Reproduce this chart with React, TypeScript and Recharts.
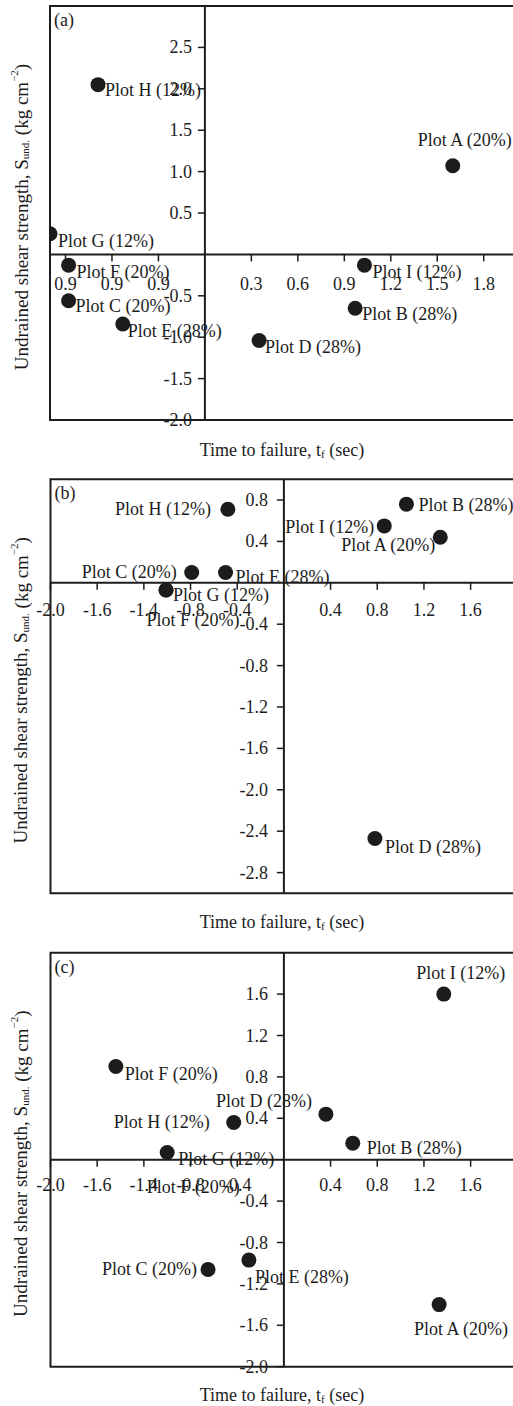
import { ScatterChart, Scatter, XAxis, YAxis, ReferenceLine, ReferenceArea } from 'recharts'

const FONT = '"Liberation Serif", "Times New Roman", serif'
const INK = '#1c1c1c'
const CHART_W = 560

// ---- panel (a) ----
const A_NAMES = ['Plot A (20%)', 'Plot B (28%)', 'Plot C (20%)', 'Plot D (28%)', 'Plot E (28%)', 'Plot F (20%)', 'Plot G (12%)', 'Plot H (12%)', 'Plot I (12%)']
const A_X = [1.6, 0.97, -0.88, 0.35, -0.53, -0.88, -1.0, -0.69, 1.03]
const A_Y = [1.07, -0.65, -0.56, -1.04, -0.84, -0.13, 0.25, 2.05, -0.13]
const A_XTICKS = [-0.9, -0.6, -0.3, 0.3, 0.6, 0.9, 1.2, 1.5, 1.8]
const A_XTICK_LABELS = ['0.9', '0.9', '0.9', '0.3', '0.6', '0.9', '1.2', '1.5', '1.8']
const A_YTICKS = [2.5, 2.0, 1.5, 1.0, 0.5, -0.5, -1.0, -1.5, -2.0]
const A_YTICK_LABELS = ['2.5', '2.0', '1.5', '1.0', '0.5', '-0.5', '-1.0', '-1.5', '-2.0']

// ---- panel (b) ----
const B_NAMES = ['Plot A (20%)', 'Plot B (28%)', 'Plot C (20%)', 'Plot D (28%)', 'Plot E (28%)', 'Plot F (20%)', 'Plot G (12%)', 'Plot H (12%)', 'Plot I (12%)']
const B_X = [1.34, 1.05, -0.79, 0.78, -0.5, -1.01, -1.01, -0.48, 0.86]
const B_Y = [0.44, 0.76, 0.1, -2.47, 0.1, -0.07, -0.07, 0.71, 0.55]
const BC_XTICKS = [-2.0, -1.6, -1.2, -0.8, -0.4, 0.4, 0.8, 1.2, 1.6]
const BC_XTICK_LABELS = ['-2.0', '-1.6', '-1.4', '-0.8', '-0.4', '0.4', '0.8', '1.2', '1.6']
const B_YTICKS = [0.8, 0.4, -0.4, -0.8, -1.2, -1.6, -2.0, -2.4, -2.8]
const B_YTICK_LABELS = ['0.8', '0.4', '-0.4', '-0.8', '-1.2', '-1.6', '-2.0', '-2.4', '-2.8']

// ---- panel (c) ----
const C_NAMES = ['Plot A (20%)', 'Plot B (28%)', 'Plot C (20%)', 'Plot D (28%)', 'Plot E (28%)', 'Plot F (20%)', 'Plot G (12%)', 'Plot H (12%)', 'Plot I (12%)']
const C_X = [1.33, 0.59, -0.65, 0.36, -0.3, -1.44, -1.0, -0.43, 1.37]
const C_Y = [-1.4, 0.16, -1.06, 0.44, -0.97, 0.9, 0.07, 0.36, 1.6]
// stray label printed under Plot G in the original figure
const C_STRAY_NAMES = ['Plot F (20%)']
const C_STRAY_X = [-1.0]
const C_STRAY_Y = [0.07]
const C_YTICKS = [1.6, 1.2, 0.8, 0.4, -0.4, -0.8, -1.2, -1.6, -2.0]
const C_YTICK_LABELS = ['1.6', '1.2', '0.8', '0.4', '-0.4', '-0.8', '-1.2', '-1.6', '-2.0']

type Anchor = 'start' | 'middle' | 'end'
type LabelPos = Record<string, [number, number, Anchor]>

// label offsets from the marker centre, keyed by plot letter
const A_LABELS: LabelPos = {
  A: [12, -26, 'middle'], B: [7, 6, 'start'], C: [7, 5, 'start'], D: [6, 6, 'start'],
  E: [5, 7, 'start'], F: [8, 7, 'start'], G: [8, 7, 'start'], H: [7, 5, 'start'], I: [8, 7, 'start'],
}
const B_LABELS: LabelPos = {
  A: [-5, 8, 'end'], B: [12, 1, 'start'], C: [-15, 0, 'end'], D: [10, 9, 'start'],
  E: [10, 5, 'start'], F: [27, 30, 'middle'], G: [7, 5, 'start'], H: [-17, 0, 'end'], I: [-10, 1, 'end'],
}
const C_LABELS: LabelPos = {
  A: [22, 24, 'middle'], B: [14, 5, 'start'], C: [-11, 0, 'end'], D: [-14, -13, 'end'],
  E: [6, 17, 'start'], F: [9, 7, 'start'], G: [11, 7, 'start'], H: [-24, 0, 'end'], I: [17, -21, 'middle'],
}
const C_STRAY_LABELS: LabelPos = { F: [26, 35, 'middle'] }

function toPoints(names: string[], xs: number[], ys: number[]) {
  return names.map((name, i) => ({ name, key: name.charAt(5), x: xs[i], y: ys[i] }))
}

function makeShape(pos: LabelPos, showDot: boolean) {
  return (props: any) => {
    const { cx, cy, payload } = props
    const [dx, dy, anchor] = pos[payload.key] ?? [8, 6, 'start']
    return (
      <g>
        {showDot && <circle cx={cx} cy={cy} r={7.5} fill={INK} />}
        <text
          x={cx + dx}
          y={cy + dy}
          textAnchor={anchor}
          dominantBaseline="central"
          fontSize={18}
          fontFamily={FONT}
          fill={INK}
        >
          {payload.name}
        </text>
      </g>
    )
  }
}

interface PanelProps {
  tag: string
  top: number
  height: number
  // margins of the plot frame inside the chart box
  margin: { top: number; right: number; bottom: number; left: number }
  xDomain: [number, number]
  yDomain: [number, number]
  xTicks: number[]
  xTickLabels: string[]
  yTicks: number[]
  yTickLabels: string[]
  points: { name: string; key: string; x: number; y: number }[]
  labels: LabelPos
  stray?: { name: string; key: string; x: number; y: number }[]
  strayLabels?: LabelPos
  xLabelGap: number
  yLabelGap: number
  titleY: number
}

function Panel(p: PanelProps) {
  const plotW = CHART_W - p.margin.left - p.margin.right
  const plotH = p.height - p.margin.top - p.margin.bottom
  const zeroX = p.margin.left + ((0 - p.xDomain[0]) / (p.xDomain[1] - p.xDomain[0])) * plotW
  const zeroY = p.margin.top + ((p.yDomain[1] - 0) / (p.yDomain[1] - p.yDomain[0])) * plotH
  const midY = p.margin.top + plotH / 2 + 4

  // the axes themselves take 1px, so shave that off the chart margins
  const chartMargin = {
    top: p.margin.top,
    right: p.margin.right,
    bottom: p.margin.bottom - 1,
    left: p.margin.left - 1,
  }

  const XTick = (props: any) => {
    const i = p.xTicks.indexOf(props.payload.value)
    return (
      <g>
        <line x1={props.x} x2={props.x} y1={zeroY} y2={zeroY + 7} stroke={INK} strokeWidth={1.5} />
        <text x={props.x} y={zeroY + p.xLabelGap} textAnchor="middle" dominantBaseline="central"
          fontSize={18} fontFamily={FONT} fill={INK}>
          {p.xTickLabels[i]}
        </text>
      </g>
    )
  }

  const YTick = (props: any) => {
    const i = p.yTicks.indexOf(props.payload.value)
    return (
      <g>
        <line x1={zeroX - 7} x2={zeroX} y1={props.y} y2={props.y} stroke={INK} strokeWidth={1.5} />
        <text x={zeroX - p.yLabelGap} y={props.y} textAnchor="end" dominantBaseline="central"
          fontSize={18} fontFamily={FONT} fill={INK}>
          {p.yTickLabels[i]}
        </text>
      </g>
    )
  }

  return (
    <div style={{ position: 'absolute', left: 0, top: p.top, width: CHART_W, height: p.height }}>
      <ScatterChart width={CHART_W} height={p.height} margin={chartMargin} style={{ overflow: 'visible' }}>
        <XAxis
          type="number"
          dataKey="x"
          domain={p.xDomain}
          allowDataOverflow
          ticks={p.xTicks}
          interval={0}
          height={1}
          axisLine={false}
          tickLine={false}
          tick={XTick}
        />
        <YAxis
          type="number"
          dataKey="y"
          domain={p.yDomain}
          allowDataOverflow
          ticks={p.yTicks}
          interval={0}
          width={1}
          axisLine={false}
          tickLine={false}
          tick={YTick}
        />
        <ReferenceArea
          x1={p.xDomain[0]}
          x2={p.xDomain[1]}
          y1={p.yDomain[0]}
          y2={p.yDomain[1]}
          fill="none"
          fillOpacity={0}
          stroke={INK}
          strokeWidth={2}
        />
        <ReferenceLine x={0} stroke={INK} strokeWidth={2} />
        <ReferenceLine y={0} stroke={INK} strokeWidth={2} />
        {p.stray && (
          <Scatter data={p.stray} shape={makeShape(p.strayLabels ?? {}, false)} isAnimationActive={false} />
        )}
        <Scatter data={p.points} shape={makeShape(p.labels, true)} isAnimationActive={false} />
      </ScatterChart>
      <svg
        width={CHART_W}
        height={p.height}
        style={{ position: 'absolute', left: 0, top: 0, pointerEvents: 'none', overflow: 'visible' }}
        fontFamily={FONT}
        fill={INK}
      >
        <text x={p.margin.left + 4} y={p.margin.top + 14} dominantBaseline="central" fontSize={18}>
          {p.tag}
        </text>
        <text x={282} y={p.titleY} textAnchor="middle" dominantBaseline="central" fontSize={18}>
          Time to failure, t
          <tspan fontSize={11} dy={4}>f</tspan>
          <tspan dy={-4}> (sec)</tspan>
        </text>
        <text
          x={21}
          y={midY}
          transform={`rotate(-90, 21, ${midY})`}
          textAnchor="middle"
          dominantBaseline="central"
          fontSize={19}
        >
          Undrained shear strength, S
          <tspan fontSize={11} dy={4}>und.</tspan>
          <tspan dy={-4}> (kg cm</tspan>
          <tspan fontSize={11} dy={-7}>−2</tspan>
          <tspan dy={7}>)</tspan>
        </text>
      </svg>
    </div>
  )
}

export default function App() {
  return (
    <div
      style={{
        position: 'absolute',
        left: 0,
        top: 0,
        width: 513,
        height: 1406,
        overflow: 'hidden',
        background: '#fff',
      }}
    >
      <Panel
        tag="(a)"
        top={0}
        height={460}
        margin={{ top: 6, left: 50, right: 45.3, bottom: 40 }}
        xDomain={[-1, 2]}
        yDomain={[-2, 3]}
        xTicks={A_XTICKS}
        xTickLabels={A_XTICK_LABELS}
        yTicks={A_YTICKS}
        yTickLabels={A_YTICK_LABELS}
        points={toPoints(A_NAMES, A_X, A_Y)}
        labels={A_LABELS}
        xLabelGap={30}
        yLabelGap={13}
        titleY={450}
      />
      <Panel
        tag="(b)"
        top={460}
        height={470}
        margin={{ top: 19.3, left: 50.5, right: 42.7, bottom: 36.7 }}
        xDomain={[-2, 2]}
        yDomain={[-3, 1]}
        xTicks={BC_XTICKS}
        xTickLabels={BC_XTICK_LABELS}
        yTicks={B_YTICKS}
        yTickLabels={B_YTICK_LABELS}
        points={toPoints(B_NAMES, B_X, B_Y)}
        labels={B_LABELS}
        xLabelGap={27}
        yLabelGap={16}
        titleY={461.7}
      />
      <Panel
        tag="(c)"
        top={935}
        height={471}
        margin={{ top: 17.7, left: 50.5, right: 42.7, bottom: 39.3 }}
        xDomain={[-2, 2]}
        yDomain={[-2, 2]}
        xTicks={BC_XTICKS}
        xTickLabels={BC_XTICK_LABELS}
        yTicks={C_YTICKS}
        yTickLabels={C_YTICK_LABELS}
        points={toPoints(C_NAMES, C_X, C_Y)}
        labels={C_LABELS}
        stray={toPoints(C_STRAY_NAMES, C_STRAY_X, C_STRAY_Y)}
        strayLabels={C_STRAY_LABELS}
        xLabelGap={25.5}
        yLabelGap={16}
        titleY={460}
      />
    </div>
  )
}
